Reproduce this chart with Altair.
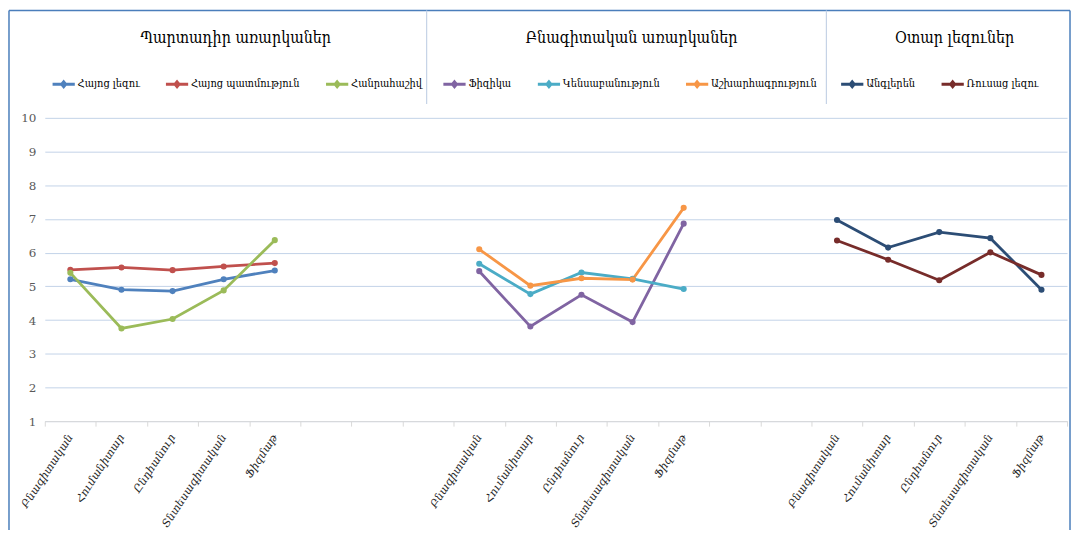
import altair as alt
import pandas as pd

# ---- categories (x slots): 3 groups of 5 streams with empty slots between
streams = ["Բնագիտական", "Հումանիտար", "Ընդհանուր", "Տնտեսագիտական", "Ֆիզմաթ"]
slot_labels = streams + ["", "", ""] + streams + ["", ""] + streams
group_start = [0, 8, 15]
group_titles = ["Պարտադիր առարկաներ", "Բնագիտական առարկաներ", "Օտար լեզուներ"]

# ---- group 1: compulsory subjects
g1_names = ["Հայոց լեզու", "Հայոց պատմություն", "Հանրահաշիվ"]
g1_colors = ["#4F81BD", "#C0504D", "#9BBB59"]
armenian_language = [5.21, 4.90, 4.86, 5.21, 5.47]
armenian_history = [5.49, 5.56, 5.48, 5.59, 5.69]
algebra = [5.40, 3.75, 4.03, 4.88, 6.37]

# ---- group 2: natural sciences
g2_names = ["Ֆիզիկա", "Կենսաբանություն", "Աշխարհագրություն"]
g2_colors = ["#8064A2", "#4BACC6", "#F79646"]
physics = [5.45, 3.81, 4.75, 3.94, 6.86]
biology = [5.67, 4.77, 5.41, 5.22, 4.92]
geography = [6.10, 5.02, 5.24, 5.20, 7.33]

# ---- group 3: foreign languages
g3_names = ["Անգլերեն", "Ռուսաց լեզու"]
g3_colors = ["#2C4D75", "#772C2A"]
english = [6.97, 6.15, 6.61, 6.43, 4.90]
russian = [6.36, 5.79, 5.18, 6.01, 5.34]

y_ticks = [1, 2, 3, 4, 5, 6, 7, 8, 9, 10]

SERIF = "DejaVu Serif"
COND = "DejaVu Serif Condensed, DejaVu Serif"


def make_df(start, names, series):
    rows = []
    for name, vals in zip(names, series):
        for i, v in enumerate(vals):
            rows.append({"slot": start + i, "series": name, "value": v})
    return pd.DataFrame(rows)


df1 = make_df(group_start[0], g1_names, [armenian_language, armenian_history, algebra])
df2 = make_df(group_start[1], g2_names, [physics, biology, geography])
df3 = make_df(group_start[2], g3_names, [english, russian])

label_js = "[" + ",".join('"%s"' % s for s in slot_labels) + "]"

xscale = alt.Scale(domain=list(range(len(slot_labels))), paddingInner=0, paddingOuter=0)
xaxis = alt.Axis(
    title=None,
    labelExpr=label_js + "[datum.value]",
    labelAngle=-57,
    labelFont=SERIF,
    labelFontStyle="italic",
    labelFontSize=11,
    labelColor="#262626",
    labelPadding=9,
    tickBand="extent",
    tickSize=5,
    tickColor="#D9D9D9",
    domainColor="#D9D9D9",
    grid=False,
)
yscale = alt.Scale(domain=[1, 10], nice=False, zero=False)
yaxis = alt.Axis(
    title=None,
    values=y_ticks,
    grid=True,
    gridColor="#C3D3E8",
    gridWidth=1,
    domain=False,
    ticks=False,
    labelFont=SERIF,
    labelFontSize=12,
    labelColor="#595959",
    labelPadding=9,
)

legend_symbol = "M-1,0L1,0M0,-0.22L0.18,0L0,0.22L-0.18,0Z"


def group_layer(df, names, colors, lx):
    return (
        alt.Chart(df)
        .mark_line(strokeWidth=2.8, point=alt.OverlayMarkDef(size=38, filled=True))
        .encode(
            x=alt.X("slot:O", scale=xscale, axis=xaxis),
            y=alt.Y("value:Q", scale=yscale, axis=yaxis),
            color=alt.Color(
                "series:N",
                scale=alt.Scale(domain=names, range=colors),
                legend=alt.Legend(
                    orient="none",
                    legendX=lx,
                    legendY=-47,
                    direction="horizontal",
                    title=None,
                    symbolType=legend_symbol,
                    symbolSize=500,
                    symbolStrokeWidth=3,
                    labelFont=COND,
                    labelFontSize=11,
                    labelColor="#000000",
                    labelOffset=1,
                    columnPadding=19,
                ),
            ),
        )
    )


l1 = group_layer(df1, g1_names, g1_colors, 6)
l2 = group_layer(df2, g2_names, g2_colors, 399)
l3 = group_layer(df3, g3_names, g3_colors, 799)

# group titles
title_df = pd.DataFrame({"title": group_titles, "px": [192, 590, 915]})
titles = (
    alt.Chart(title_df)
    .mark_text(font=COND, fontSize=16, color="#000000", baseline="middle", align="center")
    .encode(text="title:N", x=alt.X("px:Q", scale=None), y=alt.value(-80))
)

# separators between the header boxes and outer frame
sep_df = pd.DataFrame({"px": [384, 786]})
seps = (
    alt.Chart(sep_df)
    .mark_rule(color="#C5D3E6", strokeWidth=1.2)
    .encode(x=alt.X("px:Q", scale=None), y=alt.value(-108), y2=alt.value(-14))
)

frame_df = pd.DataFrame({"k": [0]})
frame_top = alt.Chart(frame_df).mark_rule(color="#4A7EBB", strokeWidth=1.5).encode(
    x=alt.value(-36), x2=alt.value(1031), y=alt.value(-108)
)
frame_left = alt.Chart(frame_df).mark_rule(color="#4A7EBB", strokeWidth=1.5).encode(
    x=alt.value(-36), y=alt.value(-108), y2=alt.value(420)
)
frame_right = alt.Chart(frame_df).mark_rule(color="#4A7EBB", strokeWidth=1.5).encode(
    x=alt.value(1031), y=alt.value(-108), y2=alt.value(420)
)

chart = (
    alt.layer(frame_top, frame_left, frame_right, seps, titles, l1, l2, l3)
    .resolve_scale(color="independent")
    .properties(
        width=1028,
        height=305,
        autosize=alt.AutoSizeParams(type="none"),
        padding={"left": 37, "top": 109, "right": 5, "bottom": 108},
    )
    .configure_view(stroke=None)
)

chart.save("out.html", embed_options={"renderer": "svg", "actions": False})
